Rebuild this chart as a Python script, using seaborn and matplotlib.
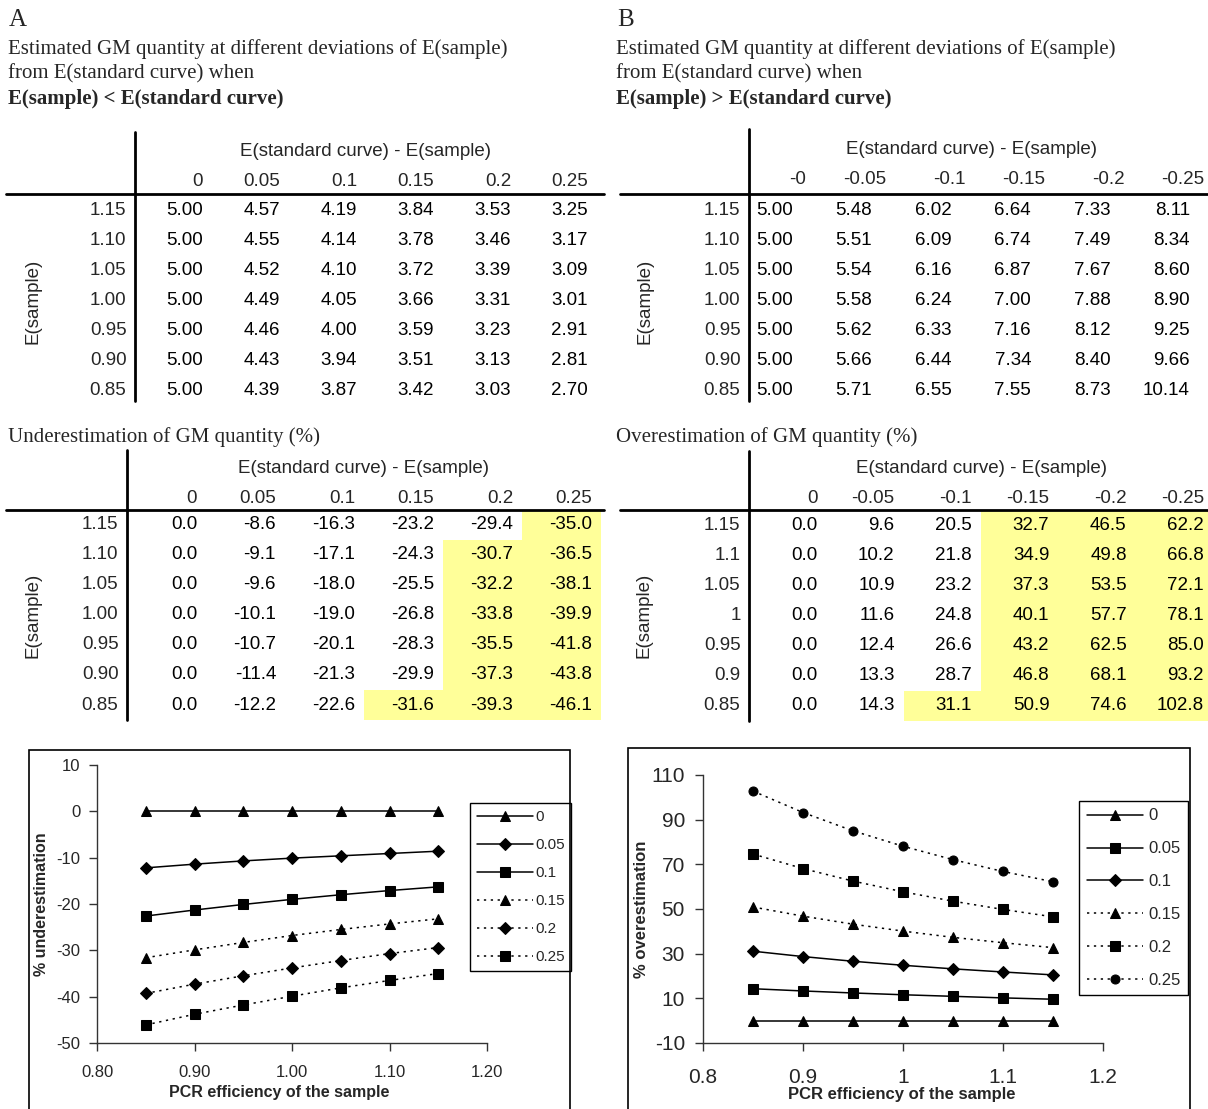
import numpy as np
import pandas as pd
import matplotlib
matplotlib.use("Agg")
import matplotlib.pyplot as plt
import seaborn as sns
from matplotlib.colors import ListedColormap
from matplotlib.patches import Rectangle

# ---- data -------------------------------------------------------------
e_sample = [1.15, 1.10, 1.05, 1.00, 0.95, 0.90, 0.85]
rows_a = ["1.15", "1.10", "1.05", "1.00", "0.95", "0.90", "0.85"]
rows_b_pct = ["1.15", "1.1", "1.05", "1", "0.95", "0.9", "0.85"]
cols_a = ["0", "0.05", "0.1", "0.15", "0.2", "0.25"]
cols_b_est = ["-0", "-0.05", "-0.1", "-0.15", "-0.2", "-0.25"]
cols_b_pct = ["0", "-0.05", "-0.1", "-0.15", "-0.2", "-0.25"]
series_labels = ["0", "0.05", "0.1", "0.15", "0.2", "0.25"]

est_under = [
    [5.00, 4.57, 4.19, 3.84, 3.53, 3.25],
    [5.00, 4.55, 4.14, 3.78, 3.46, 3.17],
    [5.00, 4.52, 4.10, 3.72, 3.39, 3.09],
    [5.00, 4.49, 4.05, 3.66, 3.31, 3.01],
    [5.00, 4.46, 4.00, 3.59, 3.23, 2.91],
    [5.00, 4.43, 3.94, 3.51, 3.13, 2.81],
    [5.00, 4.39, 3.87, 3.42, 3.03, 2.70],
]
est_over = [
    [5.00, 5.48, 6.02, 6.64, 7.33, 8.11],
    [5.00, 5.51, 6.09, 6.74, 7.49, 8.34],
    [5.00, 5.54, 6.16, 6.87, 7.67, 8.60],
    [5.00, 5.58, 6.24, 7.00, 7.88, 8.90],
    [5.00, 5.62, 6.33, 7.16, 8.12, 9.25],
    [5.00, 5.66, 6.44, 7.34, 8.40, 9.66],
    [5.00, 5.71, 6.55, 7.55, 8.73, 10.14],
]
pct_under = [
    [0.0, -8.6, -16.3, -23.2, -29.4, -35.0],
    [0.0, -9.1, -17.1, -24.3, -30.7, -36.5],
    [0.0, -9.6, -18.0, -25.5, -32.2, -38.1],
    [0.0, -10.1, -19.0, -26.8, -33.8, -39.9],
    [0.0, -10.7, -20.1, -28.3, -35.5, -41.8],
    [0.0, -11.4, -21.3, -29.9, -37.3, -43.8],
    [0.0, -12.2, -22.6, -31.6, -39.3, -46.1],
]
pct_over = [
    [0.0, 9.6, 20.5, 32.7, 46.5, 62.2],
    [0.0, 10.2, 21.8, 34.9, 49.8, 66.8],
    [0.0, 10.9, 23.2, 37.3, 53.5, 72.1],
    [0.0, 11.6, 24.8, 40.1, 57.7, 78.1],
    [0.0, 12.4, 26.6, 43.2, 62.5, 85.0],
    [0.0, 13.3, 28.7, 46.8, 68.1, 93.2],
    [0.0, 14.3, 31.1, 50.9, 74.6, 102.8],
]
# cells shaded yellow in the percentage tables
flag_under = [
    [0, 0, 0, 0, 0, 1],
    [0, 0, 0, 0, 1, 1],
    [0, 0, 0, 0, 1, 1],
    [0, 0, 0, 0, 1, 1],
    [0, 0, 0, 0, 1, 1],
    [0, 0, 0, 0, 1, 1],
    [0, 0, 0, 1, 1, 1],
]
flag_over = [
    [0, 0, 0, 1, 1, 1],
    [0, 0, 0, 1, 1, 1],
    [0, 0, 0, 1, 1, 1],
    [0, 0, 0, 1, 1, 1],
    [0, 0, 0, 1, 1, 1],
    [0, 0, 0, 1, 1, 1],
    [0, 0, 1, 1, 1, 1],
]
no_flags = [[0] * 6 for _ in range(7)]

# ---- figure -----------------------------------------------------------
W, H = 1208, 1109
sns.set_style("ticks")
plt.rcParams["font.family"] = ["Liberation Sans", "DejaVu Sans"]
SERIF = ["Liberation Serif", "DejaVu Serif"]
fig = plt.figure(figsize=(W / 100, H / 100), dpi=100)


def fig_rect(x0, y0, x1, y1):
    return [x0 / W, 1 - y1 / H, (x1 - x0) / W, (y1 - y0) / H]


def ftext(x, y, s, **kw):
    fig.text(x / W, 1 - y / H, s, va="center", ha="left", family=SERIF, **kw)


def draw_table(box, values, fmt, flags, row_labels, col_labels, vline_x,
               vline_y, hline, head_x, head_y, col_y, ylab_x,
               pad=9, lab_off=0, fs=13.5):
    x0, y0, x1, y1 = box
    colw = (x1 - x0) / 6
    rowh = (y1 - y0) / 7
    dx = lambda px: (px - x0) / colw
    dy = lambda py: (py - y0) / rowh

    ax = fig.add_axes(fig_rect(*box))
    annot = np.array([[format(v, fmt) for v in row] for row in values])
    sns.heatmap(pd.DataFrame(flags, index=row_labels, columns=col_labels),
                cmap=ListedColormap(["white", "#FFFF99"]), vmin=0, vmax=1,
                cbar=False, annot=annot, fmt="",
                annot_kws={"ha": "right", "fontsize": fs, "color": "black"},
                xticklabels=False, yticklabels=False, ax=ax)
    for t in ax.texts:
        x, y = t.get_position()
        t.set_x(x + 0.5 - pad / colw)

    for i, lab in enumerate(row_labels):
        ax.text(dx(vline_x - 8.5), i + 0.5, lab, ha="right", va="center",
                fontsize=fs)
    for j, lab in enumerate(col_labels):
        ax.text(j + 1 - (pad - lab_off) / colw, dy(col_y), lab,
                ha="right", va="center", fontsize=fs)
    ax.text(dx(head_x), dy(head_y), "E(standard curve) - E(sample)",
            ha="center", va="center", fontsize=fs)
    ax.text(dx(ylab_x), 3.5, "E(sample)", rotation=90,
            ha="center", va="center", fontsize=fs)

    hy, hl, hr = hline
    ax.plot([dx(hl), dx(hr)], [dy(hy), dy(hy)], color="black", lw=2,
            clip_on=False)
    ax.plot([dx(vline_x)] * 2, [dy(vline_y[0]), dy(vline_y[1])],
            color="black", lw=2, clip_on=False)
    ax.set_xlim(0, 6)
    ax.set_ylim(7, 0)
    return ax


def draw_chart(rect, table, markers, dashes, ylim, yticks, xticklabels,
               ylabel, ylab_x, xlab_xy, tick_fs, lab_fs, leg_xy, leg_fs,
               leg_kw, xpad, ypad):
    df = pd.DataFrame(table, index=e_sample, columns=series_labels)
    long = df.reset_index(names="E").melt(id_vars="E", var_name="series",
                                          value_name="pct")
    ax = fig.add_axes(fig_rect(*rect))
    sns.lineplot(data=long, x="E", y="pct", hue="series", style="series",
                 hue_order=series_labels, style_order=series_labels,
                 palette={s: "black" for s in series_labels},
                 markers=markers, dashes=dashes, legend=False, ax=ax,
                 lw=1.1, markeredgecolor="black")
    sizes = {"^": 7.5, "D": 6, "s": 6.5, "o": 6.5}
    for line in ax.get_lines():
        line.set_markersize(sizes[line.get_marker()])
        line.set_markeredgecolor("black")
        line.set_markerfacecolor("black")

    ax.set_xlim(0.8, 1.2)
    ax.set_ylim(*ylim)
    ax.set_xticks([0.8, 0.9, 1.0, 1.1, 1.2])
    ax.set_xticklabels(xticklabels)
    ax.set_yticks(yticks)
    ax.set_yticklabels([str(v) for v in yticks])
    for side in ["top", "right"]:
        ax.spines[side].set_visible(False)
    for side in ["left", "bottom"]:
        ax.spines[side].set_color("#333333")
        ax.spines[side].set_linewidth(1)
    ax.tick_params(axis="both", direction="out", length=6, width=1,
                   color="#333333", labelsize=tick_fs)
    ax.tick_params(axis="x", pad=xpad)
    ax.tick_params(axis="y", pad=ypad)

    x0, y0, x1, y1 = rect
    ax.set_ylabel(ylabel, fontsize=lab_fs, fontweight="bold", va="center")
    ax.yaxis.set_label_coords((ylab_x - x0) / (x1 - x0), 0.5)
    ax.set_xlabel("PCR efficiency of the sample", fontsize=lab_fs,
                  fontweight="bold", va="center")
    ax.xaxis.set_label_coords((xlab_xy[0] - x0) / (x1 - x0),
                              -(xlab_xy[1] - y1) / (y1 - y0))

    handles = ax.get_lines()[:len(series_labels)]
    leg = ax.legend(handles, series_labels, loc="upper left",
                    bbox_to_anchor=(leg_xy[0] / W, 1 - leg_xy[1] / H),
                    bbox_transform=fig.transFigure, frameon=True,
                    fancybox=False, framealpha=1, edgecolor="black",
                    fontsize=leg_fs, borderaxespad=0, **leg_kw)
    leg.get_frame().set_linewidth(1)
    return ax


# ---- headings ---------------------------------------------------------
for x0, letter, sign, pct_title in [(8, "A", "<", "Underestimation"),
                                    (616, "B", ">", "Overestimation")]:
    ftext(x0 + 1, 20, letter, fontsize=18)
    ftext(x0, 49, "Estimated GM quantity at different deviations of E(sample)",
          fontsize=15)
    ftext(x0, 74, "from E(standard curve) when", fontsize=15)
    ftext(x0, 99, f"E(sample) {sign} E(standard curve)", fontsize=15,
          fontweight="bold")
    ftext(x0, 437, f"{pct_title} of GM quantity (%)", fontsize=15)

# ---- tables -----------------------------------------------------------
draw_table((135, 196, 597, 406), est_under, ".2f", no_flags, rows_a, cols_a,
           vline_x=135, vline_y=(132, 401), hline=(194, 6, 604),
           head_x=366, head_y=152, col_y=182, ylab_x=33)
draw_table((127, 510, 601, 720), pct_under, ".1f", flag_under, rows_a, cols_a,
           vline_x=127, vline_y=(450, 720), hline=(510, 6, 604),
           head_x=364, head_y=469, col_y=499, ylab_x=33)
draw_table((722, 196, 1199, 406), est_over, ".2f", no_flags, rows_a,
           cols_b_est, vline_x=749, vline_y=(129, 401),
           hline=(194, 620, 1208), head_x=972, head_y=150, col_y=180,
           ylab_x=645, lab_off=14)
draw_table((749, 510, 1213, 721), pct_over, ".1f", flag_over, rows_b_pct,
           cols_b_pct, vline_x=749, vline_y=(451, 721),
           hline=(510, 620, 1208), head_x=981, head_y=469, col_y=499,
           ylab_x=644)

# ---- charts -----------------------------------------------------------
for x0, y0, x1 in [(29, 750, 570), (628, 748, 1190)]:
    fig.add_artist(Rectangle((x0 / W, -0.05), (x1 - x0) / W,
                             1 - y0 / H + 0.05, transform=fig.transFigure,
                             fill=False, ec="black", lw=1.2))

dot = (1.5, 3)
draw_chart((97, 765, 487, 1043), pct_under,
           markers={"0": "^", "0.05": "D", "0.1": "s",
                    "0.15": "^", "0.2": "D", "0.25": "s"},
           dashes={"0": "", "0.05": "", "0.1": "",
                   "0.15": dot, "0.2": dot, "0.25": dot},
           ylim=(-50, 10), yticks=[10, 0, -10, -20, -30, -40, -50],
           xticklabels=["0.80", "0.90", "1.00", "1.10", "1.20"],
           ylabel="% underestimation", ylab_x=42, xlab_xy=(279, 1093),
           tick_fs=12, lab_fs=11.5, leg_xy=(470, 803), leg_fs=11,
           leg_kw=dict(handlelength=3.7, handletextpad=0.1, labelspacing=0.92,
                       borderpad=0.45),
           xpad=10, ypad=6)
draw_chart((703, 775, 1103, 1043), pct_over,
           markers={"0": "^", "0.05": "s", "0.1": "D",
                    "0.15": "^", "0.2": "s", "0.25": "o"},
           dashes={"0": "", "0.05": "", "0.1": "",
                   "0.15": dot, "0.2": dot, "0.25": dot},
           ylim=(-10, 110), yticks=[110, 90, 70, 50, 30, 10, -10],
           xticklabels=["0.8", "0.9", "1", "1.1", "1.2"],
           ylabel="% overestimation", ylab_x=642, xlab_xy=(902, 1094),
           tick_fs=15, lab_fs=12, leg_xy=(1079, 801), leg_fs=12,
           leg_kw=dict(handlelength=3.4, handletextpad=0.3, labelspacing=1.07,
                       borderpad=0.45),
           xpad=12, ypad=7)

fig.savefig("out.png", dpi=100)
